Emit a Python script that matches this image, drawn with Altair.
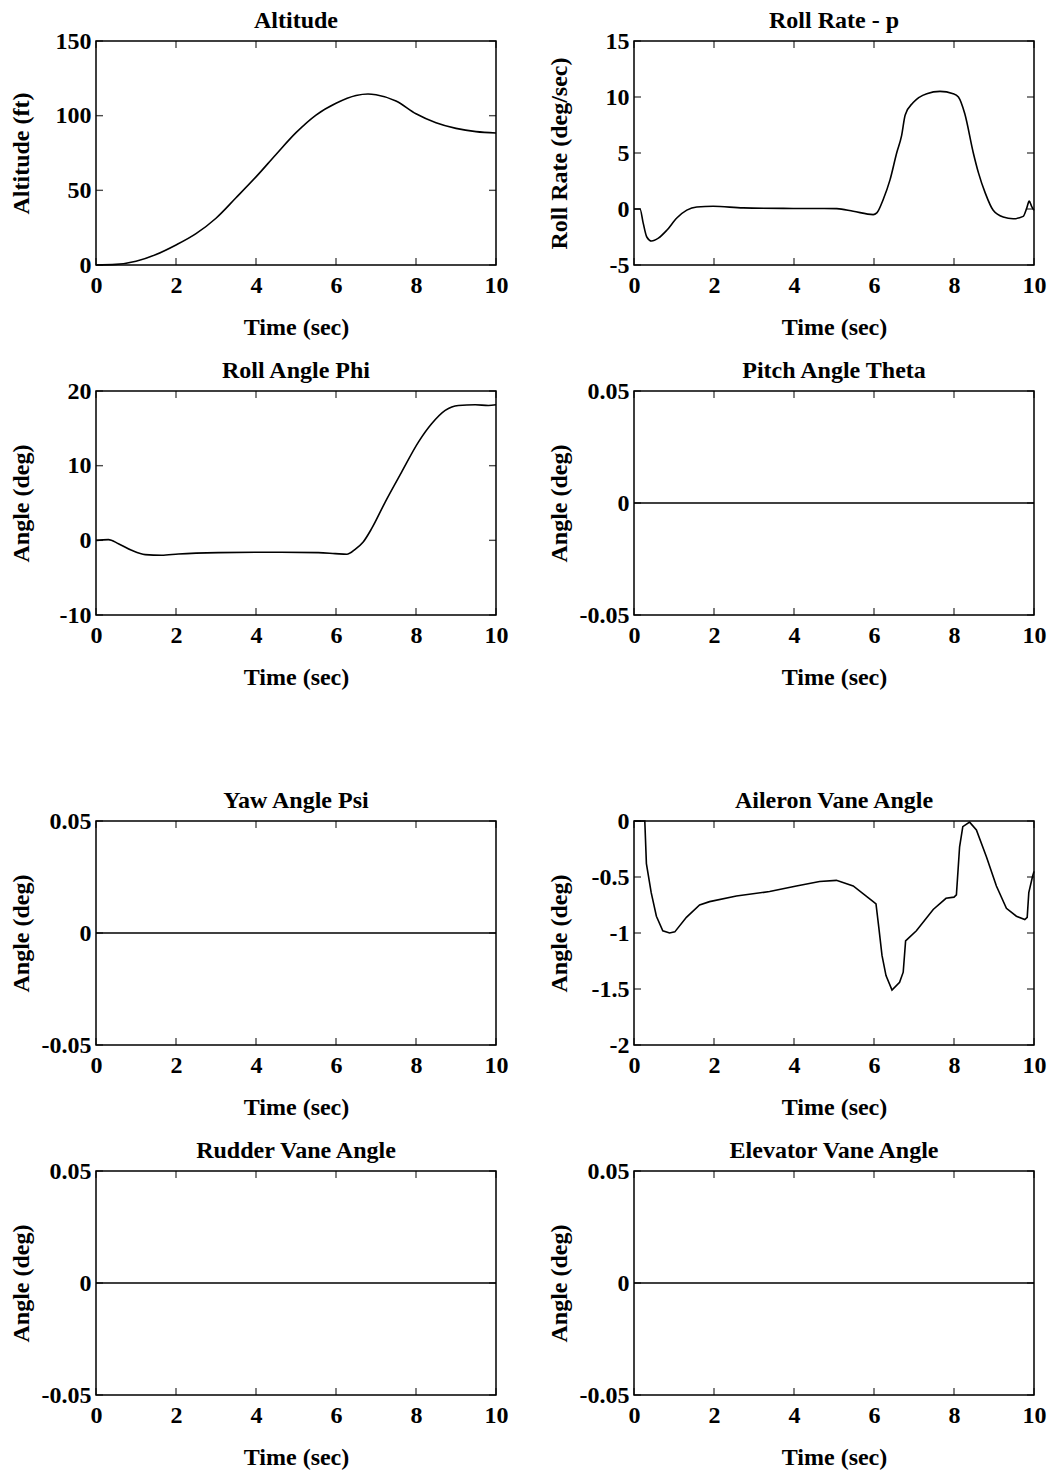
import altair as alt
import pandas as pd

FONT = "Liberation Serif"
W, H = 400, 224

x_ticks = [0, 2, 4, 6, 8, 10]

# Altitude (ft)
alt_t = [0, 0.5, 1, 1.5, 2, 2.5, 3, 3.5, 4, 4.5, 5, 5.5, 6, 6.5, 6.8, 7, 7.5, 8, 8.5, 9, 9.5, 10]
alt_v = [0, 0.4, 2.5, 7, 13.4, 21, 31.3, 45, 59, 74, 88.6, 100.4, 108.3, 113.5, 114.5, 114, 109.8, 101.3, 95.3, 91.5, 89.3, 88.4]

# Roll rate p (deg/sec)
p_t = [0, 0.15, 0.23, 0.32, 0.44, 0.61, 0.82, 1.07, 1.32, 1.57, 1.98, 2.73, 3.98, 5.07, 5.48, 5.98,
       6.07, 6.23, 6.4, 6.57, 6.69, 6.78, 6.98, 7.32, 7.65, 7.98, 8.11, 8.27, 8.48, 8.61, 8.78, 8.98,
       9.23, 9.48, 9.73, 9.82, 9.88, 9.94, 10]
p_v = [0, 0, -1.26, -2.5, -2.86, -2.6, -1.9, -0.8, -0.1, 0.18, 0.24, 0.1, 0.05, 0.03, -0.2, -0.5,
       -0.35, 0.85, 2.6, 5.05, 6.55, 8.4, 9.5, 10.3, 10.5, 10.3, 10.0, 8.5, 5.05, 3.25, 1.44, -0.12,
       -0.72, -0.87, -0.66, 0.1, 0.7, 0.24, -0.12]

# Roll angle phi (deg)
phi_t = [0, 0.31, 0.56, 0.89, 1.23, 1.64, 2.06, 3.06, 4.31, 5.56, 5.98, 6.27, 6.48, 6.68, 6.89,
         7.23, 7.64, 8.06, 8.39, 8.73, 9.06, 9.48, 9.81, 10]
phi_v = [0, 0.1, -0.45, -1.34, -1.92, -2.0, -1.83, -1.65, -1.6, -1.65, -1.78, -1.87, -1.2, -0.22, 1.56,
         5.13, 9.14, 13.15, 15.6, 17.4, 18.06, 18.15, 18.06, 18.15]

# Aileron vane angle (deg)
ail_t = [0, 0.27, 0.31, 0.43, 0.56, 0.72, 0.89, 1.02, 1.31, 1.64, 1.89, 2.56, 3.39, 4.06, 4.64, 5.06,
         5.48, 5.98, 6.05, 6.12, 6.2, 6.3, 6.45, 6.64, 6.73, 6.79, 6.85, 7.06, 7.48, 7.8, 8.0, 8.06,
         8.14, 8.22, 8.39, 8.56, 8.81, 9.06, 9.31, 9.56, 9.77, 9.83, 9.87, 9.96, 10]
ail_v = [0, 0, -0.38, -0.64, -0.85, -0.98, -1.0, -0.99, -0.86, -0.75, -0.72, -0.67, -0.63, -0.58, -0.54, -0.53,
         -0.58, -0.72, -0.74, -0.95, -1.2, -1.38, -1.51, -1.44, -1.35, -1.07, -1.05, -0.98, -0.79, -0.69, -0.68, -0.66,
         -0.23, -0.05, -0.01, -0.08, -0.32, -0.58, -0.78, -0.85, -0.88, -0.86, -0.64, -0.5, -0.45]

# Flat responses (deg)
flat_t = [0, 10]
flat_v = [0, 0]

small_ticks = [-0.05, 0, 0.05]

LABEL_EXPR = "datum.value < 0 ? '-' + format(-datum.value, '~g') : format(datum.value, '~g')"


def panel(title, ytitle, t, v, ydomain, yticks, interp="monotone"):
    xs = alt.Scale(domain=[0, 10], nice=False, zero=False)
    ys = alt.Scale(domain=ydomain, nice=False, zero=False)
    xaxis = alt.Axis(values=x_ticks, title="Time (sec)", labelExpr=LABEL_EXPR,
                     titlePadding=18, labelPadding=8)
    yaxis = alt.Axis(values=yticks, title=ytitle, labelExpr=LABEL_EXPR,
                     labelPadding=5, minExtent=60, maxExtent=60, titlePadding=3)
    df = pd.DataFrame({"t": t, "v": v})
    line = alt.Chart(df).mark_line(color="black", strokeWidth=1.6, interpolate=interp).encode(
        x=alt.X("t:Q", scale=xs, axis=xaxis),
        y=alt.Y("v:Q", scale=ys, axis=yaxis),
    )
    xt = pd.DataFrame({"t": x_ticks})
    yt = pd.DataFrame({"v": yticks})
    tk = dict(color="black", thickness=1.4, size=7)
    xb = alt.Chart(xt).mark_tick(orient="vertical", **tk).encode(
        x=alt.X("t:Q", scale=xs, axis=xaxis), y=alt.value(H - 3.5))
    xtp = alt.Chart(xt).mark_tick(orient="vertical", **tk).encode(
        x=alt.X("t:Q", scale=xs, axis=xaxis), y=alt.value(3.5))
    yl = alt.Chart(yt).mark_tick(orient="horizontal", **tk).encode(
        y=alt.Y("v:Q", scale=ys, axis=yaxis), x=alt.value(3.5))
    yr = alt.Chart(yt).mark_tick(orient="horizontal", **tk).encode(
        y=alt.Y("v:Q", scale=ys, axis=yaxis), x=alt.value(W - 3.5))
    return alt.layer(line, xb, xtp, yl, yr).properties(
        width=W, height=H, title=alt.TitleParams(title, frame="group"))


p1 = panel("Altitude", "Altitude (ft)", alt_t, alt_v, [0, 150], [0, 50, 100, 150])
p2 = panel("Roll Rate - p", "Roll Rate (deg/sec)", p_t, p_v, [-5, 15], [-5, 0, 5, 10, 15])
p3 = panel("Roll Angle Phi", "Angle (deg)", phi_t, phi_v, [-10, 20], [-10, 0, 10, 20])
p4 = panel("Pitch Angle Theta", "Angle (deg)", flat_t, flat_v, [-0.05, 0.05], small_ticks, "linear")
p5 = panel("Yaw Angle Psi", "Angle (deg)", flat_t, flat_v, [-0.05, 0.05], small_ticks, "linear")
p6 = panel("Aileron Vane Angle", "Angle (deg)", ail_t, ail_v, [-2, 0], [-2, -1.5, -1, -0.5, 0], "linear")
p7 = panel("Rudder Vane Angle", "Angle (deg)", flat_t, flat_v, [-0.05, 0.05], small_ticks, "linear")
p8 = panel("Elevator Vane Angle", "Angle (deg)", flat_t, flat_v, [-0.05, 0.05], small_ticks, "linear")

HS = 37
VS = 18
r1 = alt.hconcat(p1, p2, spacing=HS)
r2 = alt.hconcat(p3, p4, spacing=HS)
r3 = alt.hconcat(p5, p6, spacing=HS)
r4 = alt.hconcat(p7, p8, spacing=HS)
top = alt.vconcat(r1, r2, spacing=VS)
bottom = alt.vconcat(r3, r4, spacing=VS)

chart = alt.vconcat(top, bottom, spacing=98).properties(
    padding={"left": 0, "top": 0, "right": 0, "bottom": 0},
    background="white",
).configure_view(
    stroke="black", strokeWidth=1.5, fill="white"
).configure_axis(
    labelFont=FONT, labelFontSize=24, labelFontWeight="bold", labelColor="black",
    titleFont=FONT, titleFontSize=24, titleFontWeight="bold", titleColor="black",
    domain=False, grid=False, ticks=False, labelFlush=False, labelOverlap=False,
).configure_title(
    font=FONT, fontSize=24, fontWeight="bold", color="black", offset=-4, anchor="middle"
)

chart.save("out.html", embed_options={"renderer": "svg", "actions": False})
